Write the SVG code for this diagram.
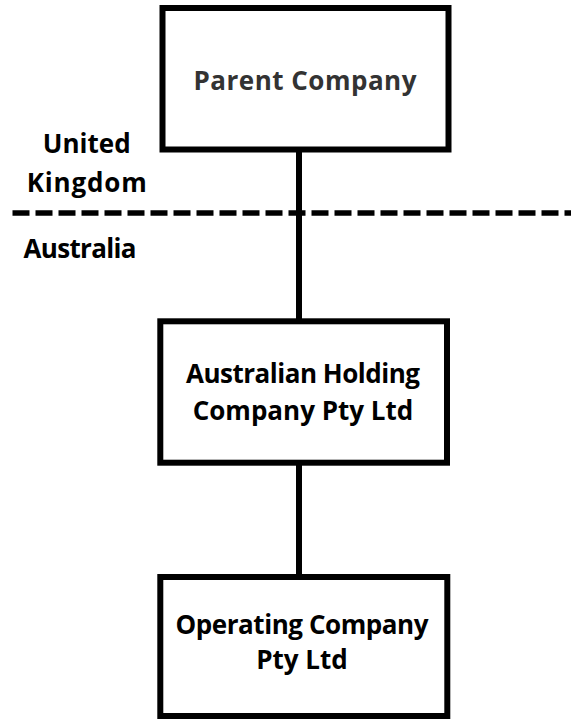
<svg xmlns="http://www.w3.org/2000/svg" width="571" height="719" viewBox="0 0 571 719">
<style>
.box{fill:#fff;stroke:#000;stroke-width:6}
.t{font-family:"Open Sans","Noto Sans","DejaVu Sans",sans-serif;font-weight:bold;font-size:26px;text-anchor:middle;fill:#000}
.conn{stroke:#000;stroke-width:6;fill:none}
</style>
<rect width="571" height="719" fill="#fff"/>
<g id="connectors">
<line class="conn" x1="299" y1="152" x2="299" y2="321"/>
<line class="conn" x1="299" y1="463" x2="299" y2="577"/>
</g>
<g id="border">
<line x1="12.5" y1="213" x2="571" y2="213" stroke="#000" stroke-width="5.5" stroke-dasharray="17 6"/>
<text class="t" x="86.7" y="153" textLength="88">United</text>
<text class="t" x="86.7" y="191.5" textLength="120">Kingdom</text>
<text class="t" x="80" y="258" textLength="113">Australia</text>
</g>
<g id="parent">
<rect class="box" x="162.5" y="8" width="286" height="141.5"/>
<text class="t" x="305" y="90" style="fill:#333" textLength="223">Parent Company</text>
</g>
<g id="holding">
<rect class="box" x="160.3" y="321.3" width="286.7" height="141.4"/>
<text class="t" x="303" y="382.5" textLength="234">Australian Holding</text>
<text class="t" x="303" y="420">Company Pty Ltd</text>
</g>
<g id="operating">
<rect class="box" x="160.3" y="577" width="287" height="139"/>
<text class="t" x="302" y="633.5" textLength="253">Operating Company</text>
<text class="t" x="302" y="668.5">Pty Ltd</text>
</g>
</svg>
